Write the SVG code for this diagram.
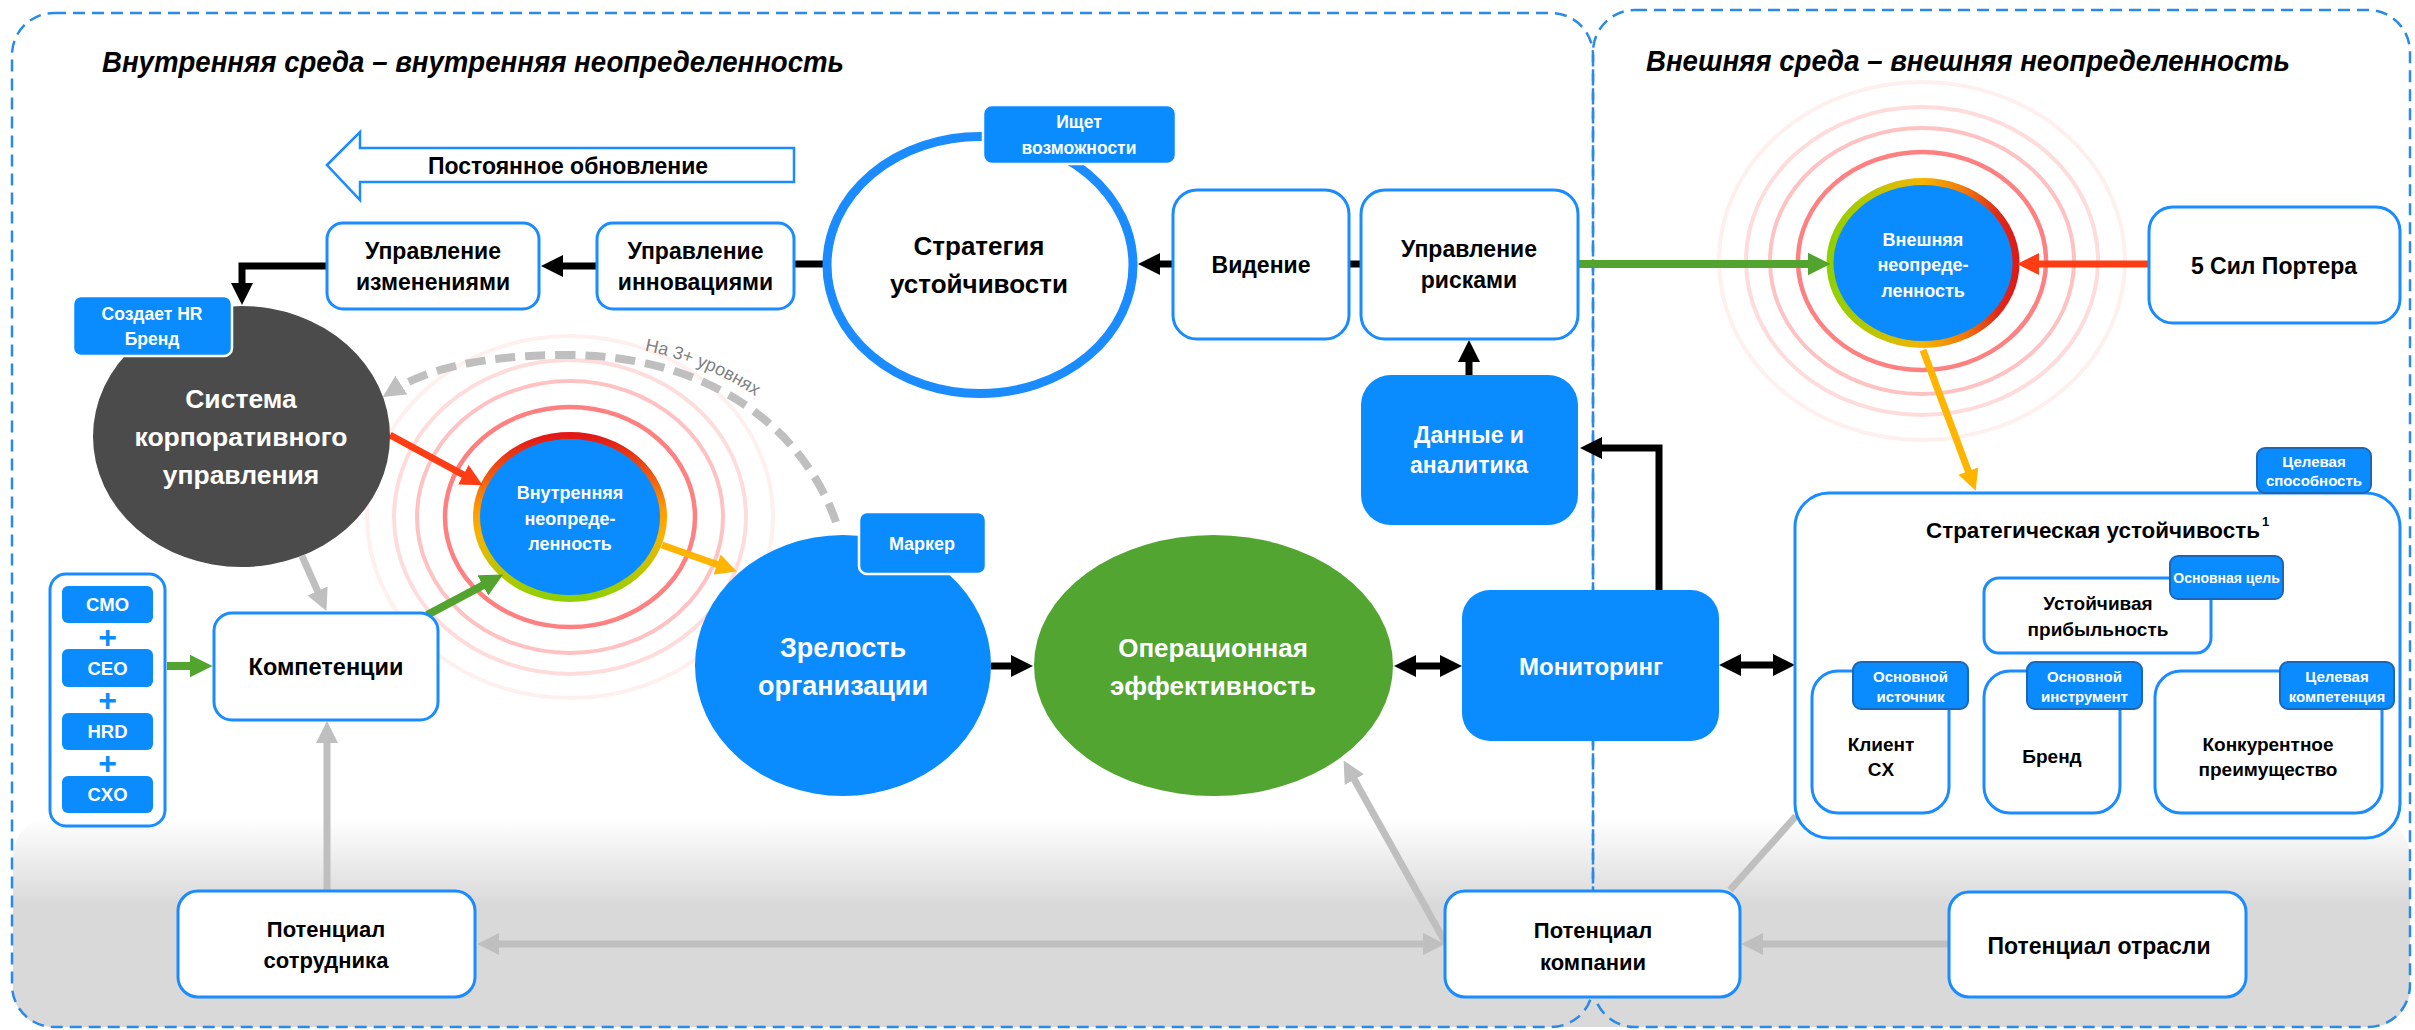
<svg xmlns="http://www.w3.org/2000/svg" xmlns:xlink="http://www.w3.org/1999/xlink" width="2415" height="1030" viewBox="0 0 2415 1030">
  <style>
    text { font-family: "Liberation Sans", Arial, sans-serif; font-weight: bold; text-anchor: middle; fill: #000; }
    text.start { text-anchor: start; }
    .w { fill: #fff; }
    .box { fill: #fff; stroke: #1a8cff; stroke-width: 3; }
    .solid { fill: #0a8cff; }
    .tag { fill: #0a8cff; stroke: #fff; stroke-width: 2.5; }
    .tag-in { fill: #0a8cff; stroke: #1c66b8; stroke-width: 2; }
    .panel { fill: none; stroke: #2a8ae8; stroke-width: 2.5; stroke-dasharray: 12 7; }
    .ring1 { fill: none; stroke: #ff8080; stroke-width: 4.5; }
    .ring2 { fill: none; stroke: #ffc2c2; stroke-width: 4; }
    .ring3 { fill: none; stroke: #ffdcdc; stroke-width: 4; }
    .ring4 { fill: none; stroke: #fff0f0; stroke-width: 4; }
    .c-black { fill: none; stroke: #000; stroke-width: 7; marker-end: url(#mk-black); }
    .c-plain { fill: none; stroke: #000; stroke-width: 7; }
    .c-thin { fill: none; stroke: #000; stroke-width: 3; marker-end: url(#mk-thin); }
    .c-gray { fill: none; stroke: #bfbfbf; stroke-width: 7; marker-end: url(#mk-gray); }
    .c-green { fill: none; stroke: #52a42f; stroke-width: 8; marker-end: url(#mk-green); }
    .c-red { fill: none; stroke: #ff3d14; stroke-width: 7; marker-end: url(#mk-red); }
    .c-orange { fill: none; stroke: #ffb400; stroke-width: 7; marker-end: url(#mk-orange); }
    .plus { fill: #0a8cff; font-size: 32px; }
    .tag-txt { fill: #fff; font-size: 15px; }
    .arc-label { fill: #7f7f7f; font-weight: normal; text-anchor: start; font-size: 18px; }
  </style>
  <defs>
    <marker id="mk-black" viewBox="0 0 10 10" refX="5" refY="5" markerWidth="22" markerHeight="24" markerUnits="userSpaceOnUse" orient="auto-start-reverse"><path d="M0,0L10,5L0,10z" fill="#000"/></marker>
    <marker id="mk-thin" viewBox="0 0 10 10" refX="5" refY="5" markerWidth="14" markerHeight="15" markerUnits="userSpaceOnUse" orient="auto-start-reverse"><path d="M0,0L10,5L0,10z" fill="#000"/></marker>
    <marker id="mk-gray" viewBox="0 0 10 10" refX="5" refY="5" markerWidth="22" markerHeight="23" markerUnits="userSpaceOnUse" orient="auto-start-reverse"><path d="M0,0L10,5L0,10z" fill="#bfbfbf"/></marker>
    <marker id="mk-green" viewBox="0 0 10 10" refX="5" refY="5" markerWidth="23" markerHeight="23" markerUnits="userSpaceOnUse" orient="auto"><path d="M0,0L10,5L0,10z" fill="#52a42f"/></marker>
    <marker id="mk-red" viewBox="0 0 10 10" refX="5" refY="5" markerWidth="22" markerHeight="22" markerUnits="userSpaceOnUse" orient="auto"><path d="M0,0L10,5L0,10z" fill="#ff3d14"/></marker>
    <marker id="mk-orange" viewBox="0 0 10 10" refX="5" refY="5" markerWidth="22" markerHeight="21" markerUnits="userSpaceOnUse" orient="auto"><path d="M0,0L10,5L0,10z" fill="#ffb400"/></marker>
    <linearGradient id="band" x1="0" y1="818" x2="0" y2="905" gradientUnits="userSpaceOnUse">
      <stop offset="0" stop-color="#ffffff"/>
      <stop offset="1" stop-color="#d9d9d9"/>
    </linearGradient>
    <linearGradient id="ring-int" x1="0.5" y1="0" x2="0.5" y2="1">
      <stop offset="0" stop-color="#e01818"/>
      <stop offset="0.25" stop-color="#f05a10"/>
      <stop offset="0.45" stop-color="#ff9a00"/>
      <stop offset="0.62" stop-color="#f5b400"/>
      <stop offset="0.82" stop-color="#c0c400"/>
      <stop offset="1" stop-color="#90d000"/>
    </linearGradient>
    <linearGradient id="ring-ext" x1="0" y1="0.5" x2="1" y2="0.5">
      <stop offset="0" stop-color="#90d000"/>
      <stop offset="0.25" stop-color="#c0c400"/>
      <stop offset="0.5" stop-color="#f5b400"/>
      <stop offset="0.72" stop-color="#f07a0a"/>
      <stop offset="0.9" stop-color="#e02a18"/>
      <stop offset="1" stop-color="#dd1a18"/>
    </linearGradient>
    <path id="arc-label" d="M 567 343 C 705 343, 812 410, 848 518"/>
  </defs>

  <!-- canvas, bottom band and the two environment panels -->
  <rect x="0" y="0" width="2415" height="1030" fill="#fff"/>
  <rect x="13" y="818" width="2397" height="209" rx="38" fill="url(#band)"/>
  <rect class="panel" x="12" y="13" width="1581" height="1014" rx="42"/>
  <rect class="panel" x="1593" y="10" width="817" height="1017" rx="42"/>

  <text class="start" x="102" y="72" font-size="29" font-style="italic" textLength="742" lengthAdjust="spacingAndGlyphs">Внутренняя среда – внутренняя неопределенность</text>
  <text class="start" x="1646" y="71" font-size="29" font-style="italic" textLength="644" lengthAdjust="spacingAndGlyphs">Внешняя среда – внешняя неопределенность</text>

  <!-- renewal direction arrow -->
  <g id="renewal">
    <path d="M327,165 L360,132 L360,148 L794,148 L794,182 L360,182 L360,200 Z" fill="#fff" stroke="#1a8cff" stroke-width="2.5"/>
    <text x="568" y="174" font-size="23">Постоянное обновление</text>
  </g>

  <!-- uncertainty nodes with their ripple rings -->
  <g id="internal-uncertainty">
    <ellipse class="ring4" cx="570" cy="517" rx="203" ry="181"/>
    <ellipse class="ring3" cx="570" cy="517" rx="176" ry="157"/>
    <ellipse class="ring2" cx="570" cy="517" rx="153" ry="136"/>
    <ellipse class="ring1" cx="570" cy="517" rx="125" ry="110"/>
    <ellipse cx="570" cy="517" rx="93.5" ry="81.5" fill="#0a8cff" stroke="url(#ring-int)" stroke-width="7"/>
    <text class="w" x="570" y="499" font-size="18">Внутренняя</text>
    <text class="w" x="570" y="525" font-size="18">неопреде-</text>
    <text class="w" x="570" y="550" font-size="18">ленность</text>
  </g>
  <g id="external-uncertainty">
    <ellipse class="ring4" cx="1922" cy="261" rx="203" ry="179"/>
    <ellipse class="ring3" cx="1922" cy="261" rx="176" ry="154"/>
    <ellipse class="ring2" cx="1922" cy="261" rx="152" ry="133"/>
    <ellipse class="ring1" cx="1922" cy="261" rx="124" ry="109"/>
    <ellipse cx="1923" cy="263" rx="93" ry="81.5" fill="#0a8cff" stroke="url(#ring-ext)" stroke-width="7"/>
    <text class="w" x="1923" y="246" font-size="18">Внешняя</text>
    <text class="w" x="1923" y="271" font-size="18">неопреде-</text>
    <text class="w" x="1923" y="297" font-size="18">ленность</text>
  </g>

  <!-- connectors -->
  <g id="connectors">
    <path class="c-black" d="M597,266 H552"/>
    <path class="c-black" d="M327,266 H242 V294"/>
    <path class="c-plain" d="M794,264 H826"/>
    <path class="c-black" d="M1173,264 H1149"/>
    <path class="c-plain" d="M1347,264 H1363"/>
    <path class="c-black" d="M1469,375 V351"/>
    <path class="c-black" d="M1659,590 V448 H1591"/>
    <path class="c-black" d="M991,666 H1022"/>
    <path class="c-black" d="M1405,666 H1451" marker-start="url(#mk-black)"/>
    <path class="c-black" d="M1730,665 H1784" marker-start="url(#mk-black)"/>

    <path class="c-green" d="M1578,264 H1819"/>
    <path class="c-red" d="M2149,264 H2028"/>
    <path class="c-orange" d="M1923,350 L1972,481"/>
    <path class="c-red" d="M390,435 L473,480"/>
    <path class="c-orange" d="M662,545 L727,568"/>
    <path class="c-green" d="M427,615 L493,580"/>
    <path class="c-green" d="M167,666 H201" stroke-width="9"/>

    <path class="c-gray" d="M302,556 L322,601"/>
    <path class="c-gray" d="M327,891 V732"/>
    <path class="c-gray" d="M488,944 H1434" marker-start="url(#mk-gray)"/>
    <path class="c-gray" d="M1445,942 L1349,770"/>
    <path class="c-gray" d="M1949,944 H1752"/>
    <path d="M1730,890 L1796,816" fill="none" stroke="#bfbfbf" stroke-width="7"/>

    <path class="c-thin" d="M1949,742 H1977"/>
    <path class="c-thin" d="M2120,742 H2148"/>
    <path class="c-thin" d="M2268,671 V616 H2219" stroke-linejoin="miter"/>

    <path d="M 836 522 C 800 420, 700 355, 567 355 C 480 355, 425 370, 392 391" fill="none" stroke="#bfbfbf" stroke-width="8" stroke-dasharray="20 10" marker-end="url(#mk-gray)"/>
    <text class="arc-label"><textPath xlink:href="#arc-label" startOffset="78">На 3+ уровнях</textPath></text>
  </g>

  <!-- internal environment nodes -->
  <g id="change-mgmt">
    <rect class="box" x="327" y="223" width="212" height="86" rx="16"/>
    <text x="433" y="259" font-size="23">Управление</text>
    <text x="433" y="290" font-size="23">изменениями</text>
  </g>
  <g id="innovation-mgmt">
    <rect class="box" x="597" y="223" width="197" height="86" rx="16"/>
    <text x="695.5" y="259" font-size="23">Управление</text>
    <text x="695.5" y="290" font-size="23">инновациями</text>
  </g>
  <g id="strategy">
    <ellipse cx="980" cy="265" rx="153" ry="128.5" fill="#fff" stroke="#1a8cff" stroke-width="9"/>
    <text x="979" y="255" font-size="26">Стратегия</text>
    <text x="979" y="293" font-size="26">устойчивости</text>
    <rect class="tag" x="983" y="105" width="193" height="59" rx="9"/>
    <text class="w" x="1079" y="128" font-size="17.5">Ищет</text>
    <text class="w" x="1079" y="154" font-size="17.5">возможности</text>
  </g>
  <g id="vision">
    <rect class="box" x="1173" y="190" width="176" height="149" rx="24"/>
    <text x="1261" y="273" font-size="23">Видение</text>
  </g>
  <g id="risk-mgmt">
    <rect class="box" x="1361" y="190" width="217" height="149" rx="24"/>
    <text x="1469" y="257" font-size="23">Управление</text>
    <text x="1469" y="288" font-size="23">рисками</text>
  </g>
  <g id="data-analytics">
    <rect class="solid" x="1361" y="375" width="217" height="150" rx="30"/>
    <text class="w" x="1469" y="443" font-size="23">Данные и</text>
    <text class="w" x="1469" y="473" font-size="23">аналитика</text>
  </g>
  <g id="monitoring">
    <rect class="solid" x="1462" y="590" width="257" height="151" rx="28"/>
    <text class="w" x="1591" y="675" font-size="24">Мониторинг</text>
  </g>
  <g id="governance">
    <ellipse cx="241.5" cy="436.5" rx="148.5" ry="130.5" fill="#4b4b4b"/>
    <text class="w" x="241" y="408" font-size="26.5">Система</text>
    <text class="w" x="241" y="446" font-size="26.5">корпоративного</text>
    <text class="w" x="241" y="484" font-size="26.5">управления</text>
    <rect class="tag" x="73" y="296" width="159" height="60" rx="8"/>
    <text class="w" x="152" y="320" font-size="17.5">Создает HR</text>
    <text class="w" x="152" y="345" font-size="17.5">Бренд</text>
  </g>
  <g id="c-suite">
    <rect class="box" x="50" y="574" width="115" height="252" rx="16"/>
    <rect class="solid" x="62" y="586" width="91" height="37" rx="6"/>
    <text class="w" x="107.5" y="611" font-size="18.5">CMO</text>
    <text class="plus" x="107.5" y="648">+</text>
    <rect class="solid" x="62" y="649" width="91" height="38" rx="6"/>
    <text class="w" x="107.5" y="675" font-size="18.5">CEO</text>
    <text class="plus" x="107.5" y="711">+</text>
    <rect class="solid" x="62" y="713" width="91" height="37" rx="6"/>
    <text class="w" x="107.5" y="738" font-size="18.5">HRD</text>
    <text class="plus" x="107.5" y="774">+</text>
    <rect class="solid" x="62" y="776" width="91" height="37" rx="6"/>
    <text class="w" x="107.5" y="801" font-size="18.5">CXO</text>
  </g>
  <g id="competencies">
    <rect class="box" x="214" y="613" width="224" height="107" rx="18"/>
    <text x="326" y="675" font-size="23.5">Компетенции</text>
  </g>
  <g id="maturity">
    <ellipse cx="843" cy="665.5" rx="148" ry="130.5" fill="#0a8cff"/>
    <text class="w" x="843" y="657" font-size="27">Зрелость</text>
    <text class="w" x="843" y="695" font-size="27">организации</text>
    <rect class="tag" x="859" y="512" width="127" height="62" rx="8"/>
    <text class="w" x="922" y="550" font-size="18">Маркер</text>
  </g>
  <g id="operational">
    <ellipse cx="1213.5" cy="665.5" rx="179.5" ry="130.5" fill="#52a530"/>
    <text class="w" x="1213" y="657" font-size="26">Операционная</text>
    <text class="w" x="1213" y="695" font-size="26">эффективность</text>
  </g>
  <g id="employee-potential">
    <rect class="box" x="178" y="891" width="297" height="106" rx="20"/>
    <text x="326" y="937" font-size="22">Потенциал</text>
    <text x="326" y="968" font-size="22">сотрудника</text>
  </g>
  <g id="company-potential">
    <rect class="box" x="1445" y="891" width="295" height="106" rx="20"/>
    <text x="1593" y="938" font-size="22">Потенциал</text>
    <text x="1593" y="970" font-size="22">компании</text>
  </g>

  <!-- external environment nodes -->
  <g id="porter">
    <rect class="box" x="2149" y="207" width="251" height="116" rx="24"/>
    <text x="2274" y="274" font-size="23">5 Сил Портера</text>
  </g>
  <g id="industry-potential">
    <rect class="box" x="1949" y="892" width="297" height="105" rx="20"/>
    <text x="2099" y="954" font-size="23">Потенциал отрасли</text>
  </g>
  <g id="strategic-resilience">
    <rect class="box" x="1795" y="493" width="605" height="345" rx="34"/>
    <text class="start" x="1926" y="538" font-size="22" textLength="334" lengthAdjust="spacingAndGlyphs">Стратегическая устойчивость</text>
    <text class="start" x="2262" y="526" font-size="13">1</text>
    <rect class="tag-in" x="2257" y="448" width="114" height="45" rx="8"/>
    <text class="tag-txt" x="2314" y="467">Целевая</text>
    <text class="tag-txt" x="2314" y="486">способность</text>
  </g>
  <g id="profitability">
    <rect class="box" x="1984" y="578" width="227" height="75" rx="15"/>
    <text x="2098" y="610" font-size="19">Устойчивая</text>
    <text x="2098" y="636" font-size="19">прибыльность</text>
    <rect class="tag-in" x="2170" y="556" width="113" height="43" rx="8"/>
    <text class="w" x="2226.5" y="583" font-size="14">Основная цель</text>
  </g>
  <g id="client">
    <rect class="box" x="1812" y="671" width="137" height="142" rx="26"/>
    <text x="1881" y="751" font-size="19">Клиент</text>
    <text x="1881" y="776" font-size="19">CX</text>
    <rect class="tag-in" x="1853" y="662" width="115" height="47" rx="8"/>
    <text class="tag-txt" x="1910.5" y="682">Основной</text>
    <text class="tag-txt" x="1910.5" y="702">источник</text>
  </g>
  <g id="brand">
    <rect class="box" x="1984" y="671" width="136" height="142" rx="26"/>
    <text x="2052" y="763" font-size="19">Бренд</text>
    <rect class="tag-in" x="2027" y="662" width="115" height="47" rx="8"/>
    <text class="tag-txt" x="2084.5" y="682">Основной</text>
    <text class="tag-txt" x="2084.5" y="702">инструмент</text>
  </g>
  <g id="competitive-advantage">
    <rect class="box" x="2155" y="671" width="227" height="142" rx="26"/>
    <text x="2268" y="751" font-size="19">Конкурентное</text>
    <text x="2268" y="776" font-size="19">преимущество</text>
    <rect class="tag-in" x="2280" y="662" width="114" height="47" rx="8"/>
    <text class="tag-txt" x="2337" y="682">Целевая</text>
    <text class="tag-txt" x="2337" y="702">компетенция</text>
  </g>
</svg>
